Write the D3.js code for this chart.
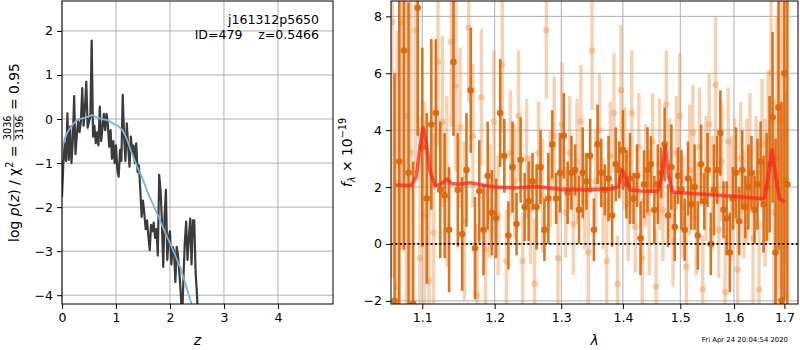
<!DOCTYPE html>
<html><head><meta charset="utf-8">
<script src="https://cdn.jsdelivr.net/npm/d3@7"></script>
<style>body{margin:0;background:#fff} svg{display:block;font-family:"DejaVu Sans",sans-serif}</style>
</head><body><svg id="c" width="800" height="350"></svg>
<script>
// ---------- left panel data: log p(z) ----------
const pzZ = [0,0.025,0.05,0.075,0.1,0.125,0.15,0.175,0.2,0.225,0.25,0.275,0.3,0.325,0.35,0.375,0.4,0.425,0.45,0.475,0.5,0.525,0.55,0.575,0.6,0.625,0.65,0.675,0.7,0.725,0.75,0.775,0.8,0.825,0.85,0.875,0.9,0.925,0.95,0.975,1.0,1.025,1.05,1.075,1.1,1.125,1.15,1.175,1.2,1.225,1.25,1.275,1.3,1.325,1.35,1.375,1.4,1.425,1.45,1.475,1.5,1.525,1.55,1.575,1.6,1.625,1.65,1.675,1.7,1.725,1.75,1.775,1.8,1.825,1.85,1.875,1.9,1.925,1.95,1.975,2.0,2.025,2.05,2.075,2.1,2.125,2.15,2.175,2.2,2.225,2.25,2.275,2.3,2.325,2.35,2.375,2.4,2.425,2.45,2.475,2.5,2.525];
const pzLogp = [-1.77,-1.0,-0.55,-0.95,0.13,-0.93,-0.17,-1.0,-0.5,0.52,-0.8,-0.35,-0.05,-0.3,-0.05,0.70,-0.15,0.25,0.85,-0.2,-0.05,0.05,1.78,-0.4,-0.15,-0.55,-0.3,-0.6,0.28,-0.5,-0.2,0.12,-0.25,0.12,-0.15,-0.63,-0.25,-0.9,-0.5,-1.0,-0.6,-1.15,-1.31,-0.7,-0.95,0.55,-0.4,-0.95,-0.1,-0.6,-1.08,-0.4,-0.75,-0.6,-1.0,-0.55,-1.2,-1.05,-1.6,-2.22,-1.85,-2.15,-2.5,-2.3,-2.65,-2.98,-2.4,-2.55,-2.35,-2.7,-2.5,-3.1,-1.27,-1.6,-2.3,-3.36,-2.2,-1.61,-3.2,-2.7,-2.55,-3.3,-2.9,-3.0,-3.70,-2.9,-3.1,-3.5,-3.96,-4.6,-3.6,-2.8,-2.33,-3.2,-2.7,-2.26,-3.3,-2.3,-2.3,-3.5,-3.96,-4.8];
const fitZ = [0.0,0.05,0.1,0.2,0.3,0.4,0.5,0.56,0.65,0.75,0.85,0.95,1.05,1.12,1.2,1.3,1.4,1.5,1.6,1.7,1.8,1.9,2.0,2.1,2.2,2.3,2.4,2.5];
const fitLogp = [-0.7,-0.45,-0.3,-0.12,0.0,0.02,0.06,0.09,0.03,0.0,-0.03,-0.1,-0.17,-0.25,-0.45,-0.8,-1.1,-1.38,-1.7,-1.98,-2.25,-2.55,-2.82,-3.1,-3.4,-3.8,-4.2,-4.65];
const zTicks = [0,1,2,3,4];
const logpTicks = [-4,-3,-2,-1,0,1,2];
const objName = "j161312p5650";
const objInfo = "ID=479    z=0.5466";

// ---------- right panel data: spectrum ----------
const darkLam = [1.064,1.070,1.076,1.082,1.088,1.094,1.100,1.106,1.112,1.118,1.124,1.130,1.136,1.142,1.148,1.154,1.160,1.166,1.172,1.178,1.184,1.190,1.196,1.202,1.208,1.214,1.220,1.226,1.232,1.238,1.244,1.250,1.256,1.262,1.268,1.274,1.280,1.286,1.292,1.298,1.304,1.310,1.316,1.322,1.328,1.334,1.340,1.346,1.352,1.358,1.364,1.370,1.376,1.382,1.388,1.394,1.400,1.406,1.412,1.418,1.424,1.430,1.436,1.442,1.448,1.454,1.460,1.466,1.472,1.478,1.484,1.490,1.496,1.502,1.508,1.514,1.520,1.526,1.532,1.538,1.544,1.550,1.556,1.562,1.568,1.574,1.580,1.586,1.592,1.598,1.604,1.610,1.616,1.622,1.628,1.634,1.640,1.646,1.652,1.658,1.664,1.670,1.676,1.682,1.688,1.694,1.700,1.706];
const darkFlux = [-2.0,2.9,6.8,2.5,-2.1,8.3,3.4,1.6,4.2,4.6,1.9,1.7,0.5,6.4,1.9,0.35,2.6,5.4,-0.15,1.85,0.5,2.4,1.1,0.9,4.6,3.1,0.3,2.7,0.7,2.95,1.3,1.5,2.2,1.3,2.7,0.5,1.6,3.5,1.6,2.5,3.8,1.8,2.5,2.6,1.2,2.5,2.2,3.1,0.5,3.5,2.5,1.9,2.3,1.0,2.8,2.6,3.3,2.1,2.3,1.6,2.4,0.2,2.1,2.6,2.8,1.2,2.1,2.5,3.5,1.0,2.7,0.6,2.4,1.9,0.5,2.3,1.4,2.0,0.3,2.8,1.5,2.6,0.0,1.9,2.6,3.9,1.2,0.9,-0.3,1.6,2.5,0.8,2.6,1.3,2.0,2.5,1.2,2.1,2.9,1.4,2.0,2.8,4.45,-0.3,4.8,-2.0,6.0,2.1];
const darkErr = [8,9,7,6,5,4.5,3.5,3,3,2.6,2.4,2.2,2.2,2.6,2.0,2.0,2.0,2.2,1.8,1.8,1.6,1.9,1.5,1.4,1.9,1.3,1.2,1.6,1.1,1.5,1.2,1.4,1.0,1.5,1.3,1.1,1.6,1.2,0.9,1.4,1.5,1.1,1.3,0.9,1.2,1.6,1.0,1.3,1.1,1.4,1.2,0.9,1.5,1.1,1.3,1.0,1.4,1.2,1.6,0.9,1.1,1.3,1.2,1.5,1.0,1.2,1.4,0.9,1.3,1.1,1.5,1.2,1.0,1.4,1.1,1.3,0.9,1.5,1.2,1.4,1.0,1.3,1.1,1.6,1.2,1.5,1.0,1.3,1.4,1.1,1.6,1.2,1.4,1.1,1.5,1.3,1.2,1.6,1.4,1.7,1.9,2.4,3,4,5,7,8,9,4.2];
const lightLam = [1.061,1.067,1.073,1.079,1.085,1.091,1.097,1.103,1.109,1.115,1.121,1.127,1.133,1.139,1.145,1.151,1.157,1.163,1.169,1.175,1.181,1.187,1.193,1.199,1.205,1.211,1.217,1.223,1.229,1.235,1.241,1.247,1.253,1.259,1.265,1.271,1.277,1.283,1.289,1.295,1.301,1.307,1.313,1.319,1.325,1.331,1.337,1.343,1.349,1.355,1.361,1.367,1.373,1.379,1.385,1.391,1.397,1.403,1.409,1.415,1.421,1.427,1.433,1.439,1.445,1.451,1.457,1.463,1.469,1.475,1.481,1.487,1.493,1.499,1.505,1.511,1.517,1.523,1.529,1.535,1.541,1.547,1.553,1.559,1.565,1.571,1.577,1.583,1.589,1.595,1.601,1.607,1.613,1.619,1.625,1.631,1.637,1.643,1.649,1.655,1.661,1.667,1.673,1.679,1.685,1.691,1.697,1.703];
const lightFlux = [7.8,-1.5,7.8,4.5,3.2,7.5,-0.5,1.0,-1.3,0.4,6.4,4.3,2.2,7.1,5.55,4.1,0.8,7.6,3.8,-1.8,5.15,-0.2,1.5,4.3,1.0,6.3,-0.6,3.2,2.2,4.5,-0.6,3.0,1.2,-1.4,3.2,1.7,7.5,2.3,3.8,-0.5,4.2,1.1,3.2,0.7,2.9,4.3,1.5,-0.3,6.8,2.2,4.0,1.4,-0.6,3.1,4.6,-1.4,5.4,3.0,1.4,4.6,0.6,3.4,-0.5,2.4,1.1,3.6,-1.5,2.8,1.2,4.9,2.3,0.1,3.2,4.5,1.3,-0.8,2.6,3.9,0.9,3.4,-1.6,2.3,4.2,1.8,5.6,0.5,2.9,-1.7,3.6,1.6,2.6,-0.9,3.0,1.4,2.2,3.2,0.2,2.5,-1.6,3.5,1.8,3.1,6.0,1.1,3.0,4.4,2.2,2.3];
const lightErr = [9,9,8,7,6,5,5,4,4,3.5,3,3,3,3,3,2.8,2.8,2.6,2.5,2.5,2.4,2.3,2.0,2.5,2.1,2.4,1.8,2.2,2.0,2.3,1.7,2.1,1.9,2.3,1.8,2.0,2.4,1.7,2.1,1.9,2.2,1.6,2.0,1.8,2.2,2.0,1.7,2.3,2.1,1.8,2.0,1.6,2.2,1.9,2.1,1.7,2.3,1.8,2.0,2.2,1.6,1.9,2.1,1.8,2.2,1.7,2.0,2.3,1.8,1.9,2.1,1.6,2.0,2.2,1.8,1.9,2.3,1.7,2.0,2.1,1.9,2.2,1.8,2.0,2.4,1.7,2.1,2.0,1.9,2.2,1.8,2.3,2.0,1.9,2.2,2.1,2.3,2.0,2.4,2.3,2.6,3,3.5,4,5,6,7,3];
const modelLam = [1.065,1.085,1.092,1.097,1.101,1.105,1.110,1.117,1.125,1.133,1.140,1.150,1.165,1.180,1.200,1.230,1.260,1.300,1.340,1.380,1.392,1.400,1.405,1.412,1.430,1.460,1.466,1.473,1.479,1.486,1.500,1.550,1.600,1.650,1.660,1.668,1.675,1.683,1.690,1.701];
const modelFlux = [2.07,2.05,2.35,3.4,4.1,3.6,2.6,2.05,2.1,2.28,2.12,2.1,2.15,2.08,2.0,1.97,2.02,1.92,1.9,1.93,2.0,2.58,2.3,1.9,1.86,1.85,2.3,3.42,2.4,1.83,1.8,1.74,1.68,1.6,1.62,2.5,3.3,2.3,1.6,1.47];
const lamTicks = [1.1,1.2,1.3,1.4,1.5,1.6,1.7];
const fluxTicks = [-2,0,2,4,6,8];
const stamp = "Fri Apr 24 20:04:54 2020";

// ---------- drawing ----------
const svg = d3.select("#c");
const FS = 12.5, LFS = 13.9;
const gridCol = "#b0b0b0";

function panel(x0, x1, y0, y1, xs, ys, xt, yt, id) {
  const g = svg.append("g");
  g.append("clipPath").attr("id", id).append("rect")
    .attr("x", x0).attr("y", y0).attr("width", x1 - x0).attr("height", y1 - y0);
  g.append("g").selectAll("line").data(xt).join("line")
    .attr("x1", d => xs(d)).attr("x2", d => xs(d)).attr("y1", y0).attr("y2", y1)
    .attr("stroke", gridCol).attr("stroke-width", 1);
  g.append("g").selectAll("line").data(yt).join("line")
    .attr("y1", d => ys(d)).attr("y2", d => ys(d)).attr("x1", x0).attr("x2", x1)
    .attr("stroke", gridCol).attr("stroke-width", 1);
  return g;
}
function axes(x0, x1, y0, y1, xs, ys, xt, yt, xfmt, yfmt) {
  const ax = svg.append("g")
    .attr("transform", `translate(0,${y1})`)
    .call(d3.axisBottom(xs).tickValues(xt).tickFormat(xfmt).tickSize(5).tickPadding(4));
  const ay = svg.append("g")
    .attr("transform", `translate(${x0},0)`)
    .call(d3.axisLeft(ys).tickValues(yt).tickFormat(yfmt).tickSize(5).tickPadding(4));
  [ax, ay].forEach(a => {
    a.select(".domain").remove();
    a.selectAll("text").attr("font-size", FS).attr("font-family", "DejaVu Sans").attr("fill", "#000");
    a.selectAll("line").attr("stroke", "#000");
  });
  svg.append("rect").attr("x", x0).attr("y", y0).attr("width", x1 - x0).attr("height", y1 - y0)
    .attr("fill", "none").attr("stroke", "#000").attr("stroke-width", 1);
}
const minus = d => String(d).replace("-", "\u2212");

// Left panel
const L = {x0: 62, x1: 333, y0: 1, y1: 304};
const xL = d3.scaleLinear().domain([0, 5.02]).range([L.x0, L.x1]);
const yL = d3.scaleLinear().domain([-4.2, 2.68]).range([L.y1, L.y0]);
const gL = panel(L.x0, L.x1, L.y0, L.y1, xL, yL, zTicks, logpTicks, "clipL");
const lineL = d3.line().x(d => xL(d[0])).y(d => yL(d[1]));
gL.append("path").datum(pzZ.map((z, i) => [z, pzLogp[i]]))
  .attr("d", lineL).attr("fill", "none").attr("stroke", "#3b3b3b").attr("stroke-width", 2.2)
  .attr("stroke-linejoin", "round").attr("clip-path", "url(#clipL)");
gL.append("path").datum(fitZ.map((z, i) => [z, fitLogp[i]]))
  .attr("d", lineL).attr("fill", "none").attr("stroke", "#7fb1d9").attr("stroke-width", 1.8)
  .attr("clip-path", "url(#clipL)");
axes(L.x0, L.x1, L.y0, L.y1, xL, yL, zTicks, logpTicks, d => d, minus);
svg.append("text").attr("x", 319).attr("y", 24).attr("text-anchor", "end").attr("font-size", FS).text(objName);
svg.append("text").attr("x", 319).attr("y", 39).attr("text-anchor", "end").attr("font-size", FS)
  .attr("xml:space", "preserve").style("white-space", "pre").text(objInfo);

// Right panel
const R = {x0: 391, x1: 798, y0: 1, y1: 304};
const xR = d3.scaleLog().domain([1.0594, 1.728]).range([R.x0, R.x1]);
const yR = d3.scaleLinear().domain([-2.11, 8.54]).range([R.y1, R.y0]);
panel(R.x0, R.x1, R.y0, R.y1, xR, yR, lamTicks, fluxTicks, "clipR");
const dataR = svg.append("g").attr("clip-path", "url(#clipR)");
const light = lightLam.map((l, i) => ({l, f: lightFlux[i], e: lightErr[i]}));
const dark = darkLam.map((l, i) => ({l, f: darkFlux[i], e: darkErr[i]}));
const lightCol = "#ee9a55";
dataR.append("g").selectAll("line").data(light).join("line")
  .attr("x1", d => xR(d.l)).attr("x2", d => xR(d.l))
  .attr("y1", d => yR(d.f - d.e)).attr("y2", d => yR(d.f + d.e))
  .attr("stroke", lightCol).attr("stroke-opacity", 0.45).attr("stroke-width", 3.4);
dataR.append("g").selectAll("circle").data(light).join("circle")
  .attr("cx", d => xR(d.l)).attr("cy", d => yR(d.f)).attr("r", 3.3)
  .attr("fill", lightCol).attr("fill-opacity", 0.45);
const darkCol = "#da680c";
dataR.append("g").selectAll("line").data(dark).join("line")
  .attr("x1", d => xR(d.l)).attr("x2", d => xR(d.l))
  .attr("y1", d => yR(d.f - d.e)).attr("y2", d => yR(d.f + d.e))
  .attr("stroke", darkCol).attr("stroke-opacity", 0.92).attr("stroke-width", 2.6);
dataR.append("g").selectAll("circle").data(dark).join("circle")
  .attr("cx", d => xR(d.l)).attr("cy", d => yR(d.f)).attr("r", 3.3)
  .attr("fill", darkCol).attr("fill-opacity", 0.95);
dataR.append("path").datum(modelLam.map((l, i) => [l, modelFlux[i]]))
  .attr("d", d3.line().x(d => xR(d[0])).y(d => yR(d[1])))
  .attr("fill", "none").attr("stroke", "#ff2418").attr("stroke-opacity", 0.75)
  .attr("stroke-width", 3.6).attr("stroke-linejoin", "round");
dataR.append("line").attr("x1", R.x0).attr("x2", R.x1).attr("y1", yR(0)).attr("y2", yR(0))
  .attr("stroke", "#000").attr("stroke-width", 1.8).attr("stroke-dasharray", "2,2.4");
axes(R.x0, R.x1, R.y0, R.y1, xR, yR, lamTicks, fluxTicks, d3.format(".1f"), minus);

// axis labels
svg.append("text").attr("x", 197.5).attr("y", 345).attr("text-anchor", "middle")
  .attr("font-size", LFS).attr("font-style", "italic").text("z");
svg.append("text").attr("x", 594.5).attr("y", 345).attr("text-anchor", "middle")
  .attr("font-size", LFS).attr("font-style", "italic").text("\u03bb");
svg.append("text").attr("x", 788).attr("y", 342).attr("text-anchor", "end")
  .attr("font-size", 6.9).text(stamp);

function mathLabel(cy, baseX, parts) {
  const g = svg.append("g").attr("transform", `translate(${baseX},${cy}) rotate(-90)`);
  let x = 0;
  parts.forEach(p => {
    if (p.frac) {
      const s = LFS * 0.7;
      const n = g.append("text").attr("font-size", s).attr("y", -7.2).text(p.frac[0]);
      const d = g.append("text").attr("font-size", s).attr("y", 4.2).text(p.frac[1]);
      const w = Math.max(n.node().getComputedTextLength(), d.node().getComputedTextLength()) + 2;
      n.attr("x", x + 1); d.attr("x", x + 1);
      g.append("line").attr("x1", x).attr("x2", x + w).attr("y1", -4.6).attr("y2", -4.6)
        .attr("stroke", "#000").attr("stroke-width", 0.7);
      x += w;
    } else {
      const s = LFS * (p.sc || 1);
      const t = g.append("text").attr("font-size", s).attr("x", x).attr("y", p.sh || 0)
        .attr("xml:space", "preserve").style("white-space", "pre").text(p.t);
      if (p.it) t.attr("font-style", "italic");
      x += t.node().getComputedTextLength();
    }
  });
  g.selectAll("*").each(function () {
    const el = d3.select(this);
    if (this.tagName === "line") { el.attr("x1", +el.attr("x1") - x / 2).attr("x2", +el.attr("x2") - x / 2); }
    else el.attr("x", +el.attr("x") - x / 2);
  });
}
mathLabel(152.5, 18.5, [
  {t: "log "}, {t: "p", it: 1}, {t: "("}, {t: "z", it: 1}, {t: ") / \u03c7"},
  {t: "2", sc: 0.7, sh: -5.5}, {t: " = "}, {frac: ["3036", "3196"]}, {t: " = 0.95"}
]);
mathLabel(152.5, 351.5, [
  {t: "f", it: 1}, {t: "\u03bb", sc: 0.7, it: 1, sh: 3}, {t: " \u00d7 10"},
  {t: "\u221219", sc: 0.7, sh: -5.5}
]);
</script></body></html>
